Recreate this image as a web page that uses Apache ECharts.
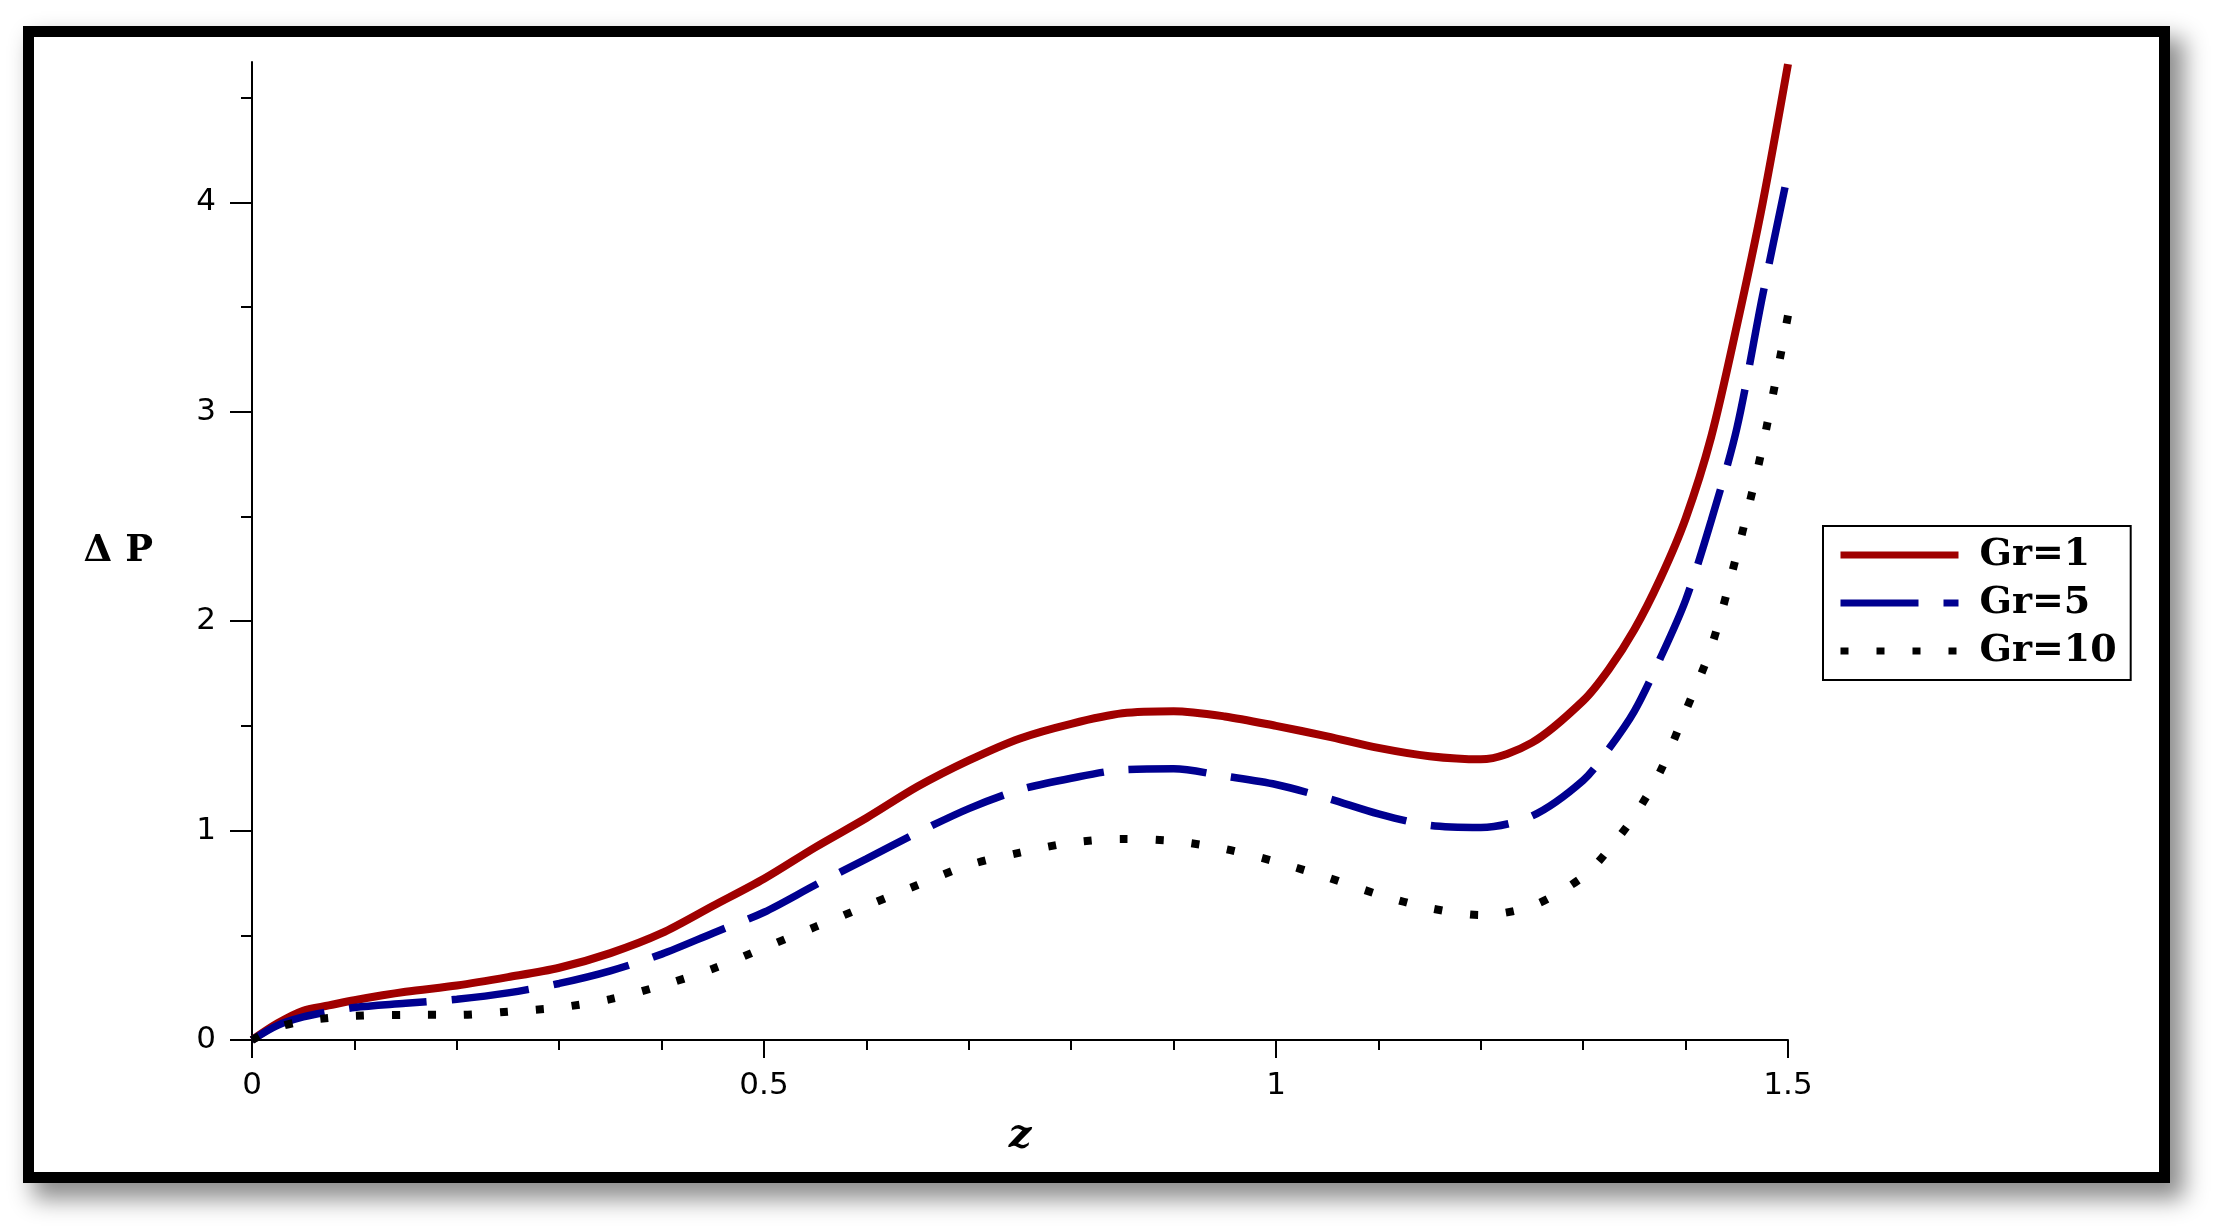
<!DOCTYPE html>
<html>
<head>
<meta charset="utf-8">
<script src="https://cdn.jsdelivr.net/npm/echarts@6/dist/echarts.min.js"></script>
<style>
  html, body { margin: 0; padding: 0; background: #fff; }
  #frame {
    position: absolute; left: 23px; top: 26px; width: 2147px; height: 1157px;
    box-sizing: border-box; border: 11px solid #000; background: #fff;
    box-shadow: 12px 14px 22px 2px rgba(0, 0, 0, 0.45);
  }
  #chart { position: absolute; left: 0; top: 0; width: 2224px; height: 1230px; }
</style>
</head>
<body>
<div id="frame"></div>
<div id="chart"></div>
<script>
// axial position z
const zValues = [0, 0.025, 0.05, 0.075, 0.1, 0.15, 0.2, 0.25, 0.3, 0.35, 0.4, 0.45, 0.5, 0.55, 0.6, 0.65,
  0.7, 0.75, 0.8, 0.85, 0.9, 0.95, 1.0, 1.05, 1.1, 1.15, 1.2, 1.25, 1.3, 1.325, 1.35, 1.375, 1.4,
  1.425, 1.45, 1.475, 1.5];
// pressure rise for each Grashof number
const gr1 = [0, 0.08, 0.14, 0.165, 0.19, 0.23, 0.26, 0.30, 0.345, 0.415, 0.51, 0.64, 0.77, 0.92, 1.06, 1.21,
  1.335, 1.44, 1.51, 1.56, 1.57, 1.545, 1.50, 1.45, 1.395, 1.355, 1.34, 1.42, 1.62, 1.77, 1.96, 2.20, 2.49,
  2.88, 3.41, 3.99, 4.66];
const gr5 = [0, 0.07, 0.11, 0.135, 0.155, 0.175, 0.195, 0.225, 0.27, 0.33, 0.41, 0.51, 0.61, 0.74, 0.865, 0.99,
  1.105, 1.195, 1.25, 1.29, 1.295, 1.26, 1.22, 1.155, 1.08, 1.025, 1.015, 1.07, 1.24, 1.39, 1.57, 1.82, 2.10,
  2.48, 2.92, 3.55, 4.14];
const gr10 = [0, 0.06, 0.09, 0.105, 0.115, 0.12, 0.12, 0.135, 0.155, 0.195, 0.26, 0.34, 0.44, 0.54, 0.64, 0.74,
  0.835, 0.895, 0.942, 0.96, 0.95, 0.912, 0.851, 0.777, 0.695, 0.63, 0.597, 0.64, 0.78, 0.91, 1.07, 1.28, 1.57,
  1.875, 2.32, 2.83, 3.46];
const seriesNames = ["Gr=1", "Gr=5", "Gr=10"];
const xTicks = [0, 0.5, 1, 1.5];
const yTicks = [0, 1, 2, 3, 4];
const yMinorTicks = [0.5, 1.5, 2.5, 3.5, 4.5];

const pairs = (ys) => zValues.map((z, i) => [z, ys[i]]);
const gridBox = { left: 252, right: 436, top: 62, bottom: 190 };
const yMax = 4.67;
const tickFont = { fontFamily: "DejaVu Sans", fontSize: 31, color: "#000" };
const black = { color: "#000", width: 2 };

const chart = echarts.init(document.getElementById("chart"));
chart.setOption({
  animation: false,
  backgroundColor: "transparent",
  grid: [
    Object.assign({}, gridBox),
    Object.assign({}, gridBox)
  ],
  legend: {
    orient: "vertical",
    left: 1823,
    top: 526,
    padding: [9, 14, 9, 14],
    borderColor: "#000",
    borderWidth: 2,
    itemWidth: 118,
    itemHeight: 14,
    itemGap: 8,
    itemStyle: { opacity: 0, borderWidth: 0 },
    lineStyle: { width: 7 },
    textStyle: {
      fontFamily: "DejaVu Serif",
      fontWeight: "bold",
      fontSize: 38,
      lineHeight: 40,
      color: "#000",
      padding: [0, 0, 0, 16]
    },
    data: seriesNames
  },
  xAxis: [
    {
      type: "value",
      gridIndex: 0,
      min: xTicks[0],
      max: xTicks[xTicks.length - 1],
      interval: 0.5,
      axisLine: { show: true, onZero: false, lineStyle: black },
      axisTick: { show: true, length: 18, lineStyle: black },
      minorTick: { show: true, splitNumber: 5, length: 10, lineStyle: black },
      splitLine: { show: false },
      axisLabel: Object.assign({ margin: 30 }, tickFont),
      name: "z",
      nameLocation: "middle",
      nameGap: 77,
      nameTextStyle: {
        fontFamily: "DejaVu Serif",
        fontWeight: "bold",
        fontStyle: "italic",
        fontSize: 40,
        color: "#000"
      }
    },
    {
      type: "value",
      gridIndex: 1,
      min: 0,
      max: 1.5,
      show: false
    }
  ],
  yAxis: [
    {
      type: "value",
      gridIndex: 0,
      min: 0,
      max: yMax,
      interval: 1,
      axisLine: { show: true, onZero: false, lineStyle: black },
      axisTick: { show: true, length: 22, customValues: yTicks, lineStyle: black },
      splitLine: { show: false },
      axisLabel: Object.assign({ margin: 36, customValues: yTicks }, tickFont),
      name: "Δ P",
      nameLocation: "middle",
      nameRotate: 0,
      nameGap: 99,
      nameTextStyle: {
        fontFamily: "DejaVu Serif",
        fontWeight: "bold",
        fontSize: 37,
        color: "#000"
      }
    },
    {
      type: "value",
      gridIndex: 1,
      min: 0,
      max: yMax,
      axisLine: { show: false },
      axisLabel: { show: false },
      splitLine: { show: false },
      axisTick: { show: true, length: 11, customValues: yMinorTicks, lineStyle: black }
    }
  ],
  series: [
    {
      name: seriesNames[0],
      type: "line",
      data: pairs(gr1),
      smooth: 0.3,
      symbol: "none",
      color: "#A00000",
      lineStyle: { width: 8, color: "#A00000", join: "round" }
    },
    {
      name: seriesNames[1],
      type: "line",
      data: pairs(gr5),
      smooth: 0.3,
      symbol: "none",
      color: "#000090",
      lineStyle: { width: 7.5, color: "#000090", type: [78, 25], cap: "butt" }
    },
    {
      name: seriesNames[2],
      type: "line",
      data: pairs(gr10),
      smooth: 0.3,
      symbol: "none",
      color: "#000",
      lineStyle: { width: 8, color: "#000", type: [8, 28], cap: "butt" }
    }
  ]
});
</script>
</body>
</html>
